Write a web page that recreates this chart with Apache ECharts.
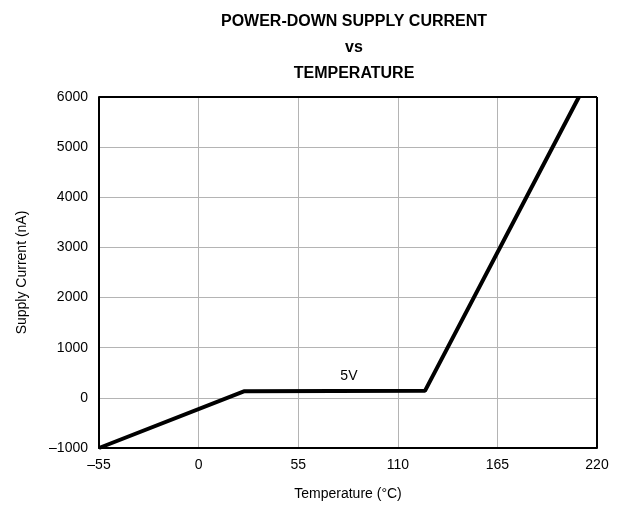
<!DOCTYPE html>
<html>
<head>
<meta charset="utf-8">
<script src="https://cdn.jsdelivr.net/npm/echarts@6/dist/echarts.min.js"></script>
<style>
  html, body { margin: 0; padding: 0; background: #fff; }
  #chart { width: 622px; height: 506px; }
</style>
</head>
<body>
<div id="chart"></div>
<script>
// temperature (°C) and supply current (nA)
var tempC = [-55, 25, 125, 210];
var currentNA = [-1000, 130, 140, 6000];
var xTicks = [-55, 0, 55, 110, 165, 220];
var yTicks = [-1000, 0, 1000, 2000, 3000, 4000, 5000, 6000];
var curveLabel = '5V';

var chart = echarts.init(document.getElementById('chart'));

function dash(v) {
  return String(v).replace('-', '\u2013');
}

var points = tempC.map(function (t, i) { return [t, currentNA[i]]; });

var option = {
  animation: false,
  textStyle: { fontFamily: 'Liberation Sans, Arial, sans-serif' },
  title: {
    text: 'POWER-DOWN SUPPLY CURRENT\nvs\nTEMPERATURE',
    left: 349,
    textAlign: 'center',
    top: 4,
    textStyle: { fontSize: 16, fontWeight: 'bold', color: '#000', lineHeight: 26 }
  },
  grid: { left: 99, right: 25, top: 97, bottom: 57 },
  xAxis: {
    type: 'value',
    min: xTicks[0],
    max: xTicks[xTicks.length - 1],
    interval: 55,
    name: 'Temperature (°C)',
    nameLocation: 'middle',
    nameGap: 39,
    nameTextStyle: { fontSize: 14, color: '#000' },
    axisLine: { show: true, onZero: false, lineStyle: { color: '#000', width: 2 } },
    axisTick: { show: false },
    axisLabel: { fontSize: 14, color: '#000', margin: 10, formatter: dash },
    splitLine: { show: true, lineStyle: { color: '#b4b4b4', width: 1 } }
  },
  yAxis: {
    type: 'value',
    min: yTicks[0],
    max: yTicks[yTicks.length - 1],
    interval: 1000,
    name: 'Supply Current (nA)',
    nameLocation: 'middle',
    nameGap: 70,
    nameTextStyle: { fontSize: 14, color: '#000' },
    axisLine: { show: true, onZero: false, lineStyle: { color: '#000', width: 2 } },
    axisTick: { show: false },
    axisLabel: { fontSize: 14, color: '#000', margin: 11, formatter: dash },
    splitLine: { show: true, lineStyle: { color: '#b4b4b4', width: 1 } }
  },
  series: [{
    type: 'line',
    data: points,
    symbol: 'none',
    lineStyle: { color: '#000', width: 4 },
    markPoint: {
      symbol: 'circle',
      symbolSize: 0,
      data: [{ coord: [83, 440], value: curveLabel }],
      label: { show: true, formatter: curveLabel, fontSize: 14, color: '#000' }
    }
  }, {
    // top and right border of the plot frame
    type: 'line',
    data: [],
    markLine: {
      silent: true,
      symbol: 'none',
      label: { show: false },
      lineStyle: { color: '#000', width: 2, type: 'solid' },
      data: [
        [{ coord: [xTicks[0], yTicks[yTicks.length - 1]] }, { coord: [xTicks[xTicks.length - 1], yTicks[yTicks.length - 1]] }],
        [{ coord: [xTicks[xTicks.length - 1], yTicks[0]] }, { coord: [xTicks[xTicks.length - 1], yTicks[yTicks.length - 1]] }]
      ]
    }
  }]
};

chart.setOption(option);
</script>
</body>
</html>
